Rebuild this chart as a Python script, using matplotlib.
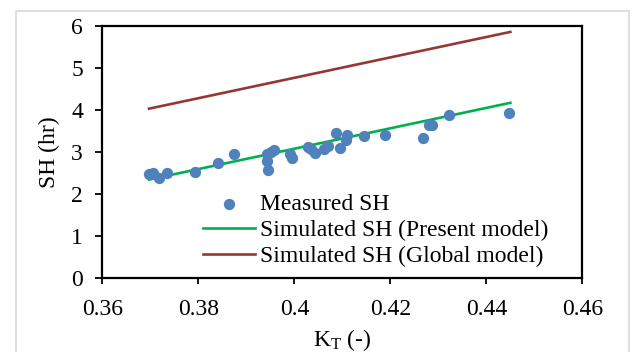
import matplotlib
matplotlib.use("Agg")
import matplotlib.pyplot as plt
from matplotlib.patches import Rectangle

plt.rcParams['font.family'] = ['Liberation Serif', 'DejaVu Serif']
plt.rcParams['mathtext.fontset'] = 'custom'
plt.rcParams['mathtext.rm'] = 'Liberation Serif'
plt.rcParams['mathtext.it'] = 'Liberation Serif:italic'

# Measured data
kt_measured = [0.3697, 0.3706, 0.3718, 0.3735, 0.3792, 0.3841, 0.3875, 0.3942, 0.3942,
               0.3945, 0.3951, 0.3958, 0.3991, 0.3995, 0.4029, 0.4034, 0.4042, 0.4061,
               0.4069, 0.4086, 0.4094, 0.4107, 0.4110, 0.4145, 0.4189, 0.4267, 0.4280,
               0.4287, 0.4323, 0.4448]
sh_measured = [2.48, 2.50, 2.38, 2.50, 2.51, 2.74, 2.94, 2.96, 2.78,
               2.56, 3.00, 3.04, 2.94, 2.86, 3.12, 3.08, 2.98, 3.08,
               3.14, 3.44, 3.09, 3.28, 3.40, 3.38, 3.41, 3.33, 3.64,
               3.65, 3.89, 3.93]

# Model lines
kt_line = [0.3697, 0.445]
sh_present = [2.34, 4.17]
sh_global = [4.03, 5.86]

fig = plt.figure(figsize=(6.35, 3.52), dpi=100)
ax = fig.add_axes([0.1614, 0.211, 0.7556, 0.715])

ax.scatter(kt_measured, sh_measured, s=66, color='#4F81BD', zorder=3,
           label='Measured SH', linewidths=0)
ax.plot(kt_line, sh_present, color='#00B050', lw=1.9, label='Simulated SH (Present model)', zorder=2)
ax.plot(kt_line, sh_global, color='#953735', lw=1.9, label='Simulated SH (Global model)', zorder=2)

ax.set_xlim(0.36, 0.46)
ax.set_ylim(0, 6)
ax.set_xticks([0.36, 0.38, 0.40, 0.42, 0.44, 0.46])
ax.set_xticklabels(['0.36', '0.38', '0.4', '0.42', '0.44', '0.46'])
ax.set_yticks([0, 1, 2, 3, 4, 5, 6])
ax.tick_params(axis='both', direction='out', width=1.3, labelsize=17)
ax.tick_params(axis='x', length=4.3, pad=11)
ax.tick_params(axis='y', length=5, pad=9)
for s in ax.spines.values():
    s.set_linewidth(1.6)
    s.set_color('black')

ax.set_xlabel(r'K$_\mathrm{T}$ (-)', fontsize=17, labelpad=5)
ax.set_ylabel('SH (hr)', fontsize=17, labelpad=8)

leg = ax.legend(loc='upper left', bbox_to_anchor=(0.21, 0.3345), frameon=False,
                fontsize=17, handlelength=2.2, handletextpad=0.22,
                labelspacing=0.19, borderpad=0, borderaxespad=0)

fig.patches.append(Rectangle((15.5 / 635, -0.1), (629 - 15.5) / 635, (352 - 11) / 352 + 0.1,
                             transform=fig.transFigure, fill=False,
                             edgecolor='#D9D9D9', lw=1.2))

fig.savefig('out.png', dpi=100)
